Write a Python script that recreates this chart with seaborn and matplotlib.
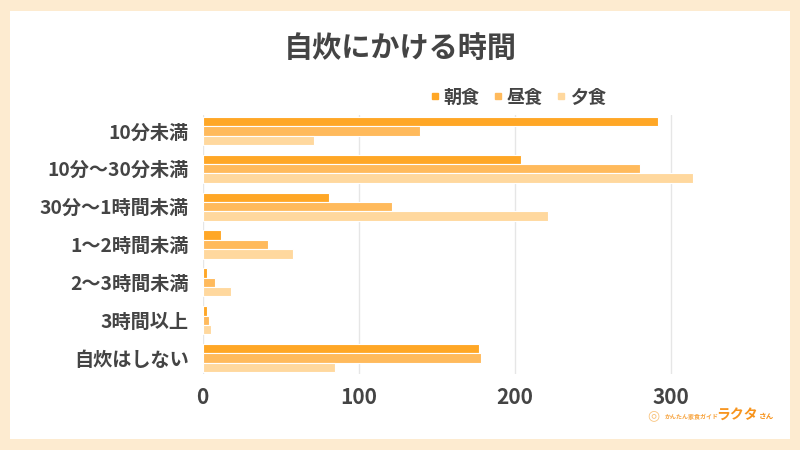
import matplotlib
matplotlib.use("Agg")
import matplotlib.pyplot as plt
from matplotlib.patches import Rectangle
from matplotlib.lines import Line2D
import seaborn as sns
import pandas as pd

categories = ["10分未満", "10分〜30分未満", "30分〜1時間未満", "1〜2時間未満",
              "2〜3時間未満", "3時間以上", "自炊はしない"]
series_names = ["朝食", "昼食", "夕食"]
breakfast = [292, 204, 81, 12, 3, 3, 177]
lunch = [139, 280, 121, 42, 8, 4, 178]
dinner = [71, 314, 221, 58, 18, 5, 85]
x_ticks = [0, 100, 200, 300]
title = "自炊にかける時間"
colors = ["#FFA726", "#FFBA5C", "#FFD89E"]

rows = []
for name, vals in zip(series_names, [breakfast, lunch, dinner]):
    for c, v in zip(categories, vals):
        rows.append({"category": c, "meal": name, "value": v})
df = pd.DataFrame(rows)

sns.set_theme(style="white")
plt.rcParams['font.family'] = ['Noto Sans CJK JP', 'DejaVu Sans']

fig = plt.figure(figsize=(8, 4.5), dpi=100, facecolor="#FDEBD0")
fig.patches.append(Rectangle((10/800, 11/450), 780/800, 428/450,
                             transform=fig.transFigure, facecolor="white",
                             edgecolor="none", zorder=-5))
ax = fig.add_axes([202.7/800, 1-374/450, (749-202.7)/800, (374-115)/450])
ax.set_zorder(2)
ax.set_facecolor("none")

sns.barplot(data=df, y="category", x="value", hue="meal", order=categories,
            hue_order=series_names, palette=colors, orient="h", width=0.74,
            edgecolor="white", linewidth=0.8, saturation=1, ax=ax, legend=False)

ax.set_xlim(0, 350)
ax.set_ylim(6.42, -0.42)
ax.set_xticks(x_ticks)
ax.set_xticklabels([str(t) for t in x_ticks])
ax.set_xlabel("")
ax.set_ylabel("")
ax.grid(axis="x", color="#E6E6E6", linewidth=1)
ax.set_axisbelow(True)
for s in ax.spines.values():
    s.set_visible(False)
ax.tick_params(axis="x", length=0, pad=9, labelsize=15, labelcolor="#444444")
ax.tick_params(axis="y", length=0, pad=10, labelsize=13.8, labelcolor="#444444")
for lab in ax.get_xticklabels() + ax.get_yticklabels():
    lab.set_fontweight("bold")

fig.text(0.5, 1-48/450, title, ha="center", va="center", fontsize=21,
         fontweight="bold", color="#444444")

handles = [Line2D([0], [0], marker="s", linestyle="none", markersize=5,
                  markerfacecolor=c, markeredgecolor=c) for c in colors]
leg = fig.legend(handles, series_names, loc="center", bbox_to_anchor=(0.646, 1-97/450),
                 ncol=3, frameon=False, handletextpad=0.1, columnspacing=0.6,
                 handlelength=0.8, prop={"size": 13, "weight": "bold"})
for t in leg.get_texts():
    t.set_color("#444444")

# logo
fig.text(665/800, 1-416/450, "かんたん家食ガイド", ha="left", va="center", fontsize=4.3,
         fontweight="bold", color="#F7A23B")
fig.text(716/800, 1-415/450, "ラクタ", ha="left", va="center", fontsize=10,
         fontweight="bold", color="#F7941D")
fig.text(759/800, 1-416/450, "さん", ha="left", va="center", fontsize=5.5,
         fontweight="bold", color="#F7941D")
fig.text(653/800, 1-415/450, "◎", ha="center", va="center", fontsize=10,
         color="#F9C27A", family=["DejaVu Sans"])

fig.savefig("out.png", dpi=100, facecolor=fig.get_facecolor())
